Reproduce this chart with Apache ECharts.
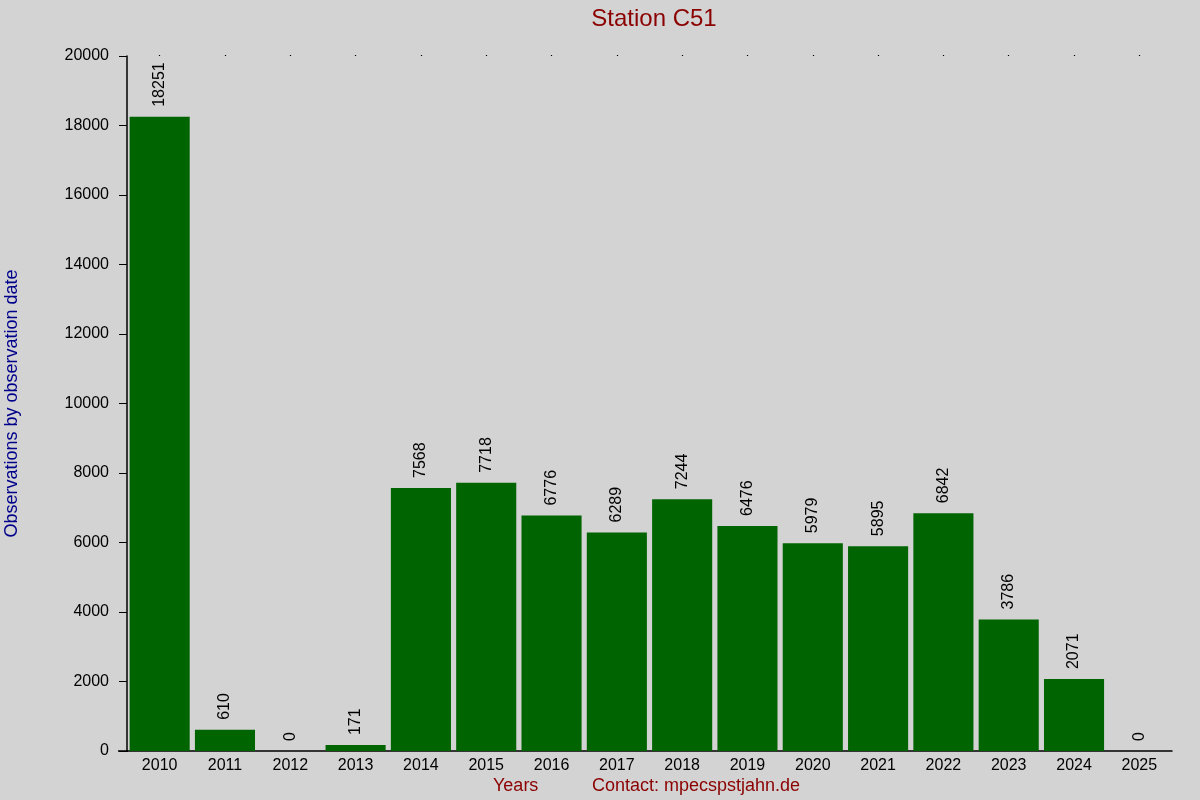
<!DOCTYPE html>
<html>
<head>
<meta charset="utf-8">
<script src="https://cdn.jsdelivr.net/npm/echarts@6/dist/echarts.min.js"></script>
<style>
  html, body { margin: 0; padding: 0; background: #d3d3d3; }
  #main { width: 1200px; height: 800px; }
</style>
</head>
<body>
<div id="main"></div>
<script>
var years = ['2010', '2011', '2012', '2013', '2014', '2015', '2016', '2017',
  '2018', '2019', '2020', '2021', '2022', '2023', '2024', '2025'];
var observations = [18251, 610, 0, 171, 7568, 7718, 6776, 6289,
  7244, 6476, 5979, 5895, 6842, 3786, 2071, 0];

var chart = echarts.init(document.getElementById('main'));
var font = 'Liberation Sans, Arial, sans-serif';

var option = {
  backgroundColor: '#d3d3d3',
  animation: false,
  title: {
    text: 'Station C51',
    left: 649,
    textAlign: 'center',
    top: 2,
    textStyle: { color: '#8b0000', fontSize: 24, fontWeight: 'normal', fontFamily: font }
  },
  grid: { left: 127, right: 28, top: 56, bottom: 49, containLabel: false, outerBoundsMode: 'none' },
  xAxis: [{
    type: 'category',
    data: years,
    axisLine: { lineStyle: { color: '#000', width: 1.5 } },
    axisTick: { show: false },
    axisLabel: { color: '#000', fontSize: 16, fontFamily: font, margin: 7 }
  }, {
    // dotted marks along the top edge
    type: 'category',
    position: 'top',
    data: years,
    axisLine: { show: false },
    axisTick: { show: true, alignWithLabel: true, length: 1, lineStyle: { color: '#000', width: 1.2 } },
    axisLabel: { show: false }
  }],
  yAxis: {
    type: 'value',
    min: 0,
    max: 20000,
    interval: 2000,
    name: 'Observations by observation date',
    nameLocation: 'middle',
    nameGap: 106,
    nameTextStyle: { color: '#00008b', fontSize: 18, fontFamily: font },
    splitLine: { show: false },
    axisLine: { show: true, lineStyle: { color: '#000', width: 1.5 } },
    axisTick: { show: true, length: 8, lineStyle: { color: '#000' } },
    axisLabel: {
      color: '#000', fontSize: 16, fontFamily: font, margin: 18,
      formatter: function (v) { return String(v); }
    }
  },
  series: [{
    type: 'bar',
    data: observations,
    barCategoryGap: '8%',
    itemStyle: { color: '#006400' },
    label: {
      show: true,
      position: 'top',
      rotate: 90,
      align: 'left',
      verticalAlign: 'middle',
      distance: 10,
      color: '#000',
      fontSize: 16,
      fontFamily: font
    }
  }],
  graphic: [{
    // x axis line runs a bit past the y axis, under the ticks
    type: 'line',
    shape: { x1: 118, y1: 751, x2: 128, y2: 751 },
    style: { stroke: '#000', lineWidth: 1.5 }
  }, {
    type: 'text',
    left: 493,
    top: 777,
    style: { text: 'Years', fill: '#8b0000', fontSize: 18, fontFamily: font }
  }, {
    type: 'text',
    left: 592,
    top: 777,
    style: { text: 'Contact: mpecspstjahn.de', fill: '#8b0000', fontSize: 18, fontFamily: font }
  }]
};

chart.setOption(option);
</script>
</body>
</html>
